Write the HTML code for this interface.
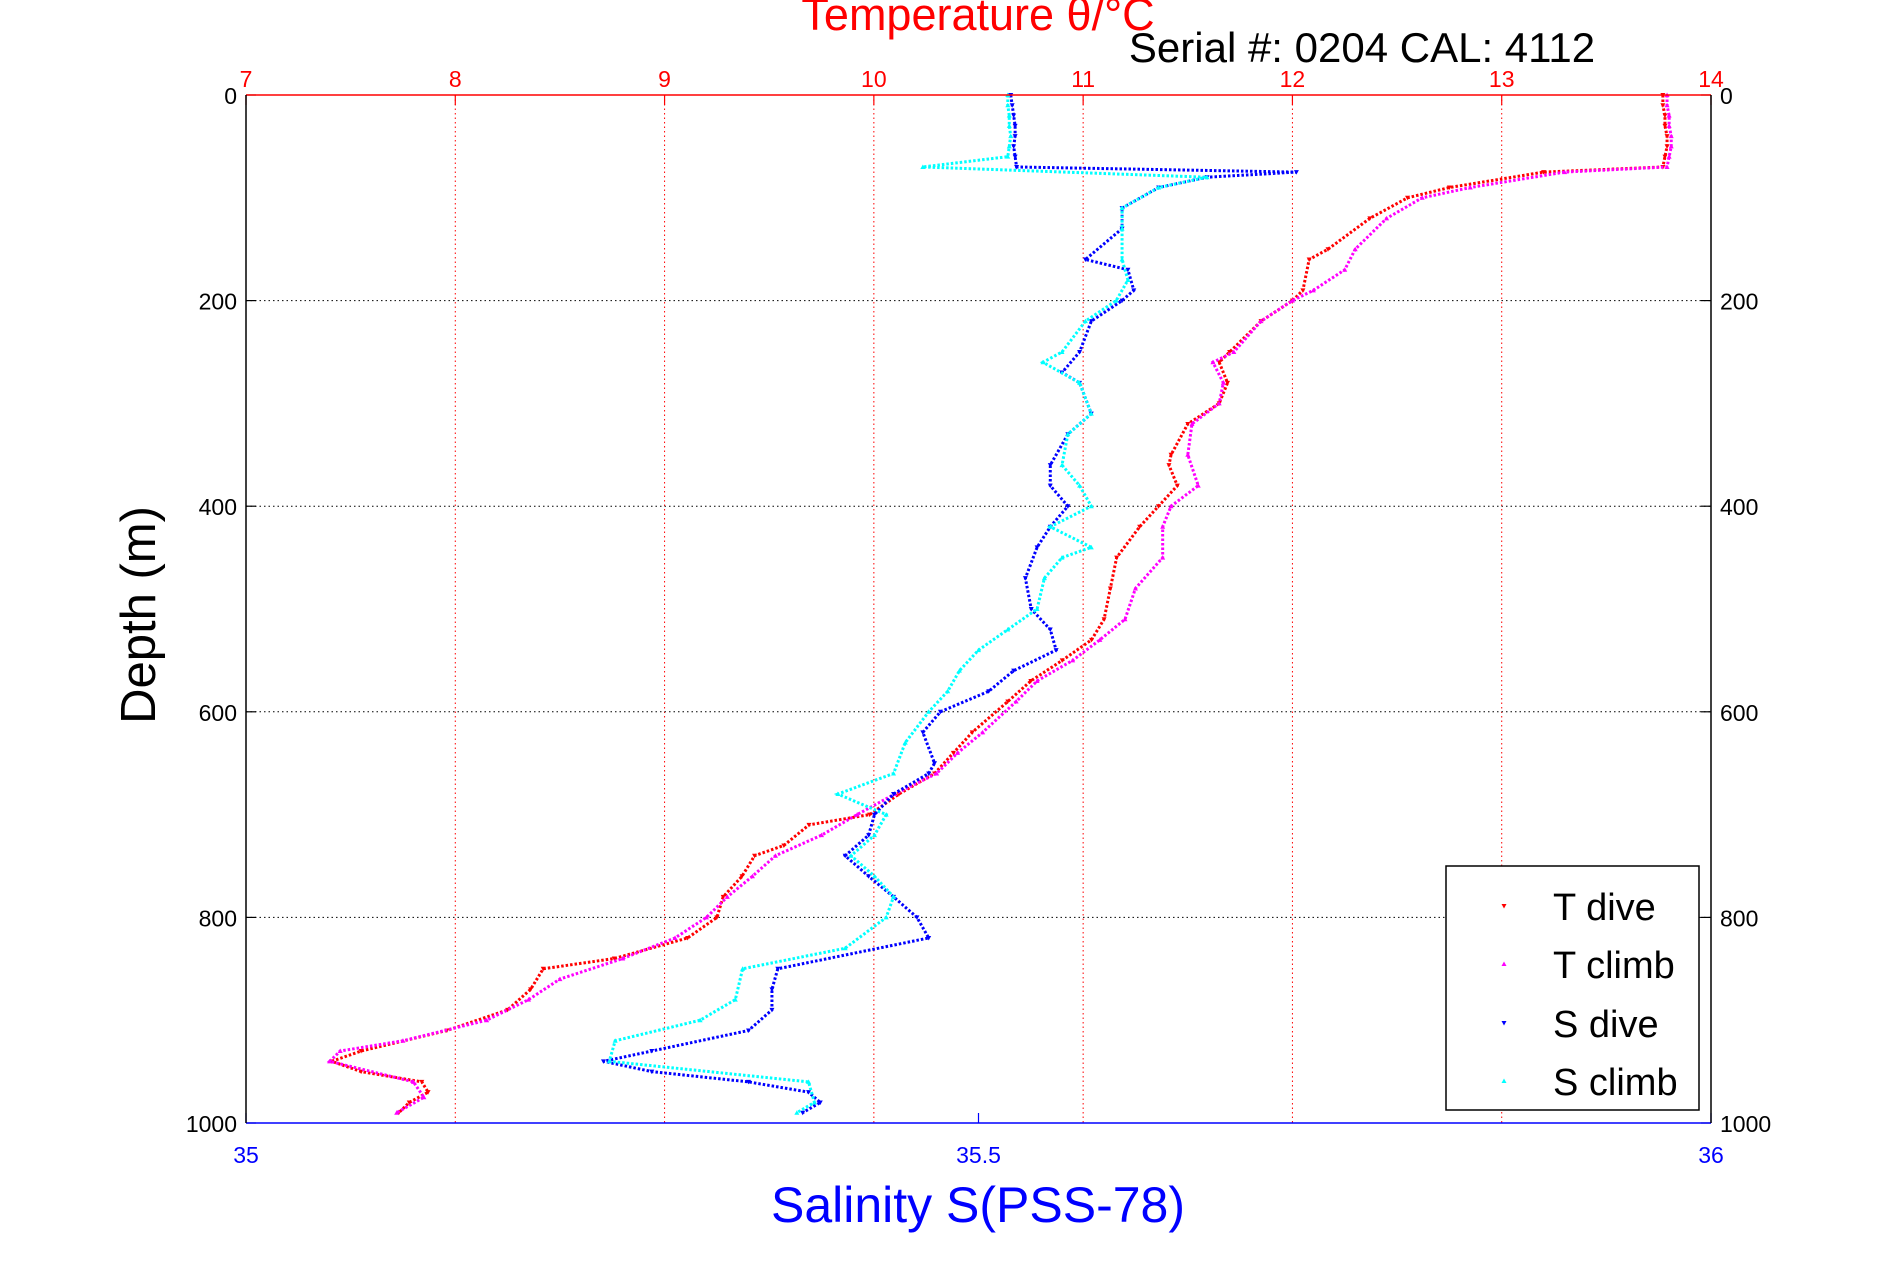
<!DOCTYPE html>
<html><head><meta charset="utf-8"><style>
html,body{margin:0;padding:0;background:#fff;}
svg{display:block;font-family:"Liberation Sans",sans-serif;}
</style></head><body>
<svg id="chart" width="1891" height="1262">
<g id="grid"></g>
<g id="marks"></g>
<g id="axes"></g>
<text x="978" y="30" text-anchor="middle" font-size="45" fill="#ff0000">Temperature θ/°C</text>
<text x="1362" y="62" text-anchor="middle" font-size="42" fill="#000">Serial #: 0204  CAL: 4112</text>
<text x="978" y="1222" text-anchor="middle" font-size="50" fill="#0000ff">Salinity S(PSS-78)</text>
<text transform="translate(155,615) rotate(-90)" text-anchor="middle" font-size="49" fill="#000">Depth (m)</text>
<g>
<rect x="1446" y="866" width="253" height="244" fill="#fff" stroke="#000" stroke-width="1.5"/>
<g id="legend-items"></g>
</g>
</svg>
<script>
const depthTicks=[0,200,400,600,800,1000];
const tempTicks=[7,8,9,10,11,12,13,14];
const salTicks=[35,35.5,36];
const salTickLabels=["35","35.5","36"];
const seriesNames=["T dive","T climb","S dive","S climb"];

const tDiveDepth=[0,10,20,30,40,50,60,70,75,90,100,120,150,160,190,200,220,250,260,280,300,320,350,360,380,400,420,450,480,510,530,550,570,590,620,640,660,680,700,710,730,740,760,780,800,820,840,850,870,890,910,930,940,950,960,970,980,990];
const tDiveVal=[13.77,13.77,13.78,13.78,13.79,13.79,13.78,13.77,13.2,12.75,12.55,12.37,12.17,12.08,12.05,12.0,11.85,11.7,11.65,11.69,11.65,11.5,11.42,11.41,11.45,11.36,11.27,11.16,11.13,11.1,11.04,10.9,10.75,10.64,10.47,10.38,10.29,10.12,9.98,9.69,9.57,9.43,9.37,9.28,9.25,9.11,8.76,8.42,8.36,8.25,7.96,7.55,7.41,7.55,7.84,7.87,7.78,7.73];
const tClimbDepth=[0,10,20,30,40,50,60,70,75,90,100,120,150,170,190,200,220,250,260,280,300,320,350,380,400,420,450,480,510,530,550,570,590,620,640,660,680,700,720,740,760,780,800,820,840,860,880,900,920,930,940,960,975,990];
const tClimbVal=[13.79,13.79,13.8,13.8,13.81,13.81,13.8,13.79,13.3,12.85,12.62,12.45,12.3,12.25,12.1,12.0,11.85,11.72,11.62,11.67,11.65,11.52,11.5,11.55,11.42,11.38,11.38,11.25,11.2,11.08,10.95,10.78,10.68,10.52,10.4,10.3,10.1,9.92,9.75,9.53,9.42,9.3,9.2,9.05,8.8,8.5,8.35,8.15,7.75,7.45,7.4,7.8,7.85,7.72];
const sDiveDepth=[0,10,20,30,40,50,60,70,75,80,90,110,130,160,170,190,200,220,250,270,280,310,330,360,380,400,420,440,470,500,520,540,560,580,600,620,650,660,680,700,720,740,760,780,800,820,850,870,890,910,930,940,950,960,970,980,990];
const sDiveVal=[35.522,35.523,35.524,35.525,35.525,35.524,35.525,35.526,35.717,35.656,35.623,35.598,35.598,35.573,35.602,35.606,35.598,35.577,35.569,35.557,35.569,35.577,35.561,35.549,35.549,35.561,35.549,35.54,35.532,35.536,35.549,35.553,35.524,35.507,35.474,35.462,35.47,35.466,35.442,35.429,35.425,35.409,35.425,35.442,35.458,35.466,35.363,35.359,35.359,35.343,35.277,35.244,35.277,35.343,35.384,35.392,35.38];
const sClimbDepth=[0,10,20,30,40,50,60,70,80,90,110,130,160,180,200,220,250,260,280,310,330,360,380,400,420,440,450,470,500,520,540,560,580,600,630,660,680,700,720,740,760,780,800,830,850,880,900,920,940,960,980,990];
const sClimbVal=[35.52,35.52,35.521,35.521,35.522,35.521,35.52,35.462,35.656,35.623,35.598,35.598,35.598,35.602,35.594,35.573,35.557,35.544,35.569,35.577,35.561,35.557,35.569,35.577,35.549,35.577,35.557,35.545,35.54,35.52,35.5,35.487,35.479,35.466,35.45,35.442,35.404,35.437,35.429,35.413,35.429,35.442,35.437,35.409,35.339,35.334,35.31,35.252,35.248,35.384,35.388,35.376];

const L=246,R=1711,T=95,B=1123;
const yD=d=>T+(d/1000)*(B-T);
const xT=t=>L+(t-7)/7*(R-L);
const xS=s=>L+(s-35)*(R-L);
const NS="http://www.w3.org/2000/svg";
function mk(tag,attrs,parent){const e=document.createElementNS(NS,tag);for(const k in attrs)e.setAttribute(k,attrs[k]);parent.appendChild(e);return e;}
const grid=document.getElementById('grid'),axes=document.getElementById('axes'),marks=document.getElementById('marks');

tempTicks.forEach((t,i)=>{
  const x=xT(t);
  if(i>0&&i<tempTicks.length-1){const g=mk('line',{x1:x,x2:x,y1:T,y2:B,stroke:'#ff0000','stroke-width':1,'stroke-dasharray':'1.5,3'},grid);
  
  }
  const tk=mk('line',{x1:x,x2:x,y1:T,y2:T+10,stroke:'#ff0000','stroke-width':1.2},axes);
  
  
  const lb=mk('text',{x:x,y:T-8,'text-anchor':'middle','font-size':23,fill:'#ff0000'},axes);lb.textContent=t;
  
  
});
depthTicks.forEach((d,i)=>{
  const y=yD(d);
  if(i>0&&i<depthTicks.length-1){const g=mk('line',{x1:L,x2:R,y1:y,y2:y,stroke:'#000','stroke-width':1,'stroke-dasharray':'1.5,3'},grid);
  
  }
  mk('line',{x1:L,x2:L+10,y1:y,y2:y,stroke:'#000','stroke-width':1.2},axes);
  mk('line',{x1:R-10,x2:R,y1:y,y2:y,stroke:'#000','stroke-width':1.2},axes);
  const a=mk('text',{x:L-9,y:y+9,'text-anchor':'end','font-size':23,fill:'#000'},axes);a.textContent=d;
  
  
  const b=mk('text',{x:R+9,y:y+9,'text-anchor':'start','font-size':23,fill:'#000'},axes);b.textContent=d;
  
  
});
salTicks.forEach((s,i)=>{
  const x=xS(s);
  mk('line',{x1:x,x2:x,y1:B-10,y2:B,stroke:'#0000ff','stroke-width':1.2},axes);
  const lb=mk('text',{x:x,y:B+40,'text-anchor':'middle','font-size':23,fill:'#0000ff'},axes);lb.textContent=salTickLabels[i];
  
  
});
mk('line',{x1:L,x2:R,y1:T,y2:T,stroke:'#ff0000','stroke-width':1.5},axes);
mk('line',{x1:L,x2:R,y1:B,y2:B,stroke:'#0000ff','stroke-width':1.5},axes);
mk('line',{x1:L,x2:L,y1:T,y2:B,stroke:'#000','stroke-width':1.5},axes);
mk('line',{x1:R,x2:R,y1:T,y2:B,stroke:'#000','stroke-width':1.5},axes);

const series=[
 {d:tDiveDepth,v:tDiveVal,x:xT,c:'#ff0000',up:false,n:'t-dive-series'},
 {d:tClimbDepth,v:tClimbVal,x:xT,c:'#ff00ff',up:true,n:'t-climb-series'},
 {d:sDiveDepth,v:sDiveVal,x:xS,c:'#0000ff',up:false,n:'s-dive-series'},
 {d:sClimbDepth,v:sClimbVal,x:xS,c:'#00ffff',up:true,n:'s-climb-series'}];
function tri(x,y,up){return up?`${x-2.5},${y+2} ${x+2.5},${y+2} ${x},${y-2.5}`:`${x-2.5},${y-2} ${x+2.5},${y-2} ${x},${y+2.5}`;}
series.forEach(s=>{
  const g=mk('g',{},marks);
  
  
  const pts=s.d.map((d,i)=>s.x(s.v[i])+','+yD(d)).join(' ');
  const pl=mk('polyline',{points:pts,fill:'none',stroke:s.c,'stroke-width':3,'stroke-dasharray':'2.5,2'},g);
  
  
  s.d.forEach((d,i)=>{const p=mk('polygon',{points:tri(s.x(s.v[i]),yD(d),s.up),fill:s.c},g);
    
    });
});
const li=document.getElementById('legend-items');
const ly=[920,978,1037,1095];
series.forEach((s,i)=>{
  const p=mk('polygon',{points:tri(1504,ly[i]-14,s.up),fill:s.c},li);
  
  
  const t=mk('text',{x:1553,y:ly[i],'font-size':38,fill:'#000'},li);t.textContent=seriesNames[i];
  
  
});
</script>
</body></html>
